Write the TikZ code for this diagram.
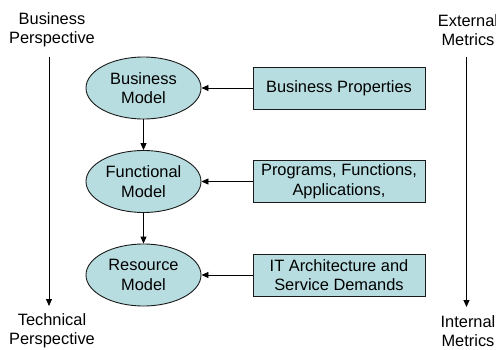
\documentclass[tikz,border=0pt]{standalone}
\usepackage{fontspec}
\setmainfont{Liberation Sans}
\usetikzlibrary{arrows.meta,shapes.geometric}
\definecolor{modelfill}{HTML}{B8DDE0}
\definecolor{edge}{HTML}{1A1A1A}
\begin{document}
\begin{tikzpicture}[x=1pt,y=-1pt,
  every node/.style={font=\fontsize{16.4}{19.5}\selectfont, align=center, inner sep=0pt},
  model/.style={ellipse, draw=edge, line width=0.9pt, fill=modelfill,
    minimum width=115pt, minimum height=62pt},
  source/.style={rectangle, draw=edge, line width=0.9pt, fill=modelfill,
    minimum width=172pt, minimum height=42pt},
  flow/.style={draw=black, line width=0.9pt, -{Triangle[length=7pt,width=6pt]}}]
\useasboundingbox (0,0) rectangle (496,349);

% perspective and metric labels
\node (bp) at (52,30) {Business\\Perspective};
\node (tp) at (52,331) {Technical\\Perspective};
\node (em) at (468,30) {External\\Metrics};
\node (im) at (468,331) {Internal\\Metrics};

\coordinate (bpTop) at (49,57);
\coordinate (bpEnd) at (49,306);
\coordinate (emTop) at (466.5,57);
\coordinate (emEnd) at (466.5,307);
\draw[flow] (bpTop) -- (bpEnd);
\draw[flow] (emTop) -- (emEnd);

% model levels
\node[model] (bm) at (143.5,88) {Business\\Model};
\node[model] (fm) at (143.5,181.5) {Functional\\Model};
\node[model] (rm) at (143.5,275) {Resource\\Model};

% inputs to each level
\node[source] (bprop) at (339,88) {Business Properties};
\node[source] (prog) at (339,181.5) {Programs, Functions,\\Applications,};
\node[source] (itarch) at (339,275) {IT Architecture and\\Service Demands};

\draw[flow] (bm) -- (fm);
\draw[flow] (fm) -- (rm);
\draw[flow] (bprop) -- (bm);
\draw[flow] (prog) -- (fm);
\draw[flow] (itarch) -- (rm);
\end{tikzpicture}
\end{document}
